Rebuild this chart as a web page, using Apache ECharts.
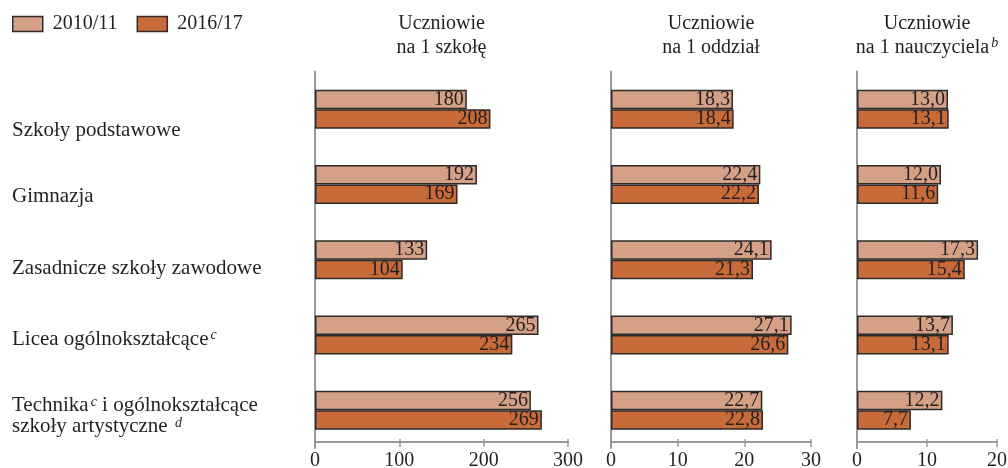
<!DOCTYPE html>
<html>
<head>
<meta charset="utf-8">
<script src="https://cdn.jsdelivr.net/npm/echarts@6/dist/echarts.min.js"></script>
<style>
html,body{margin:0;padding:0;background:#fff;}
#chart{width:1008px;height:468px;}
</style>
</head>
<body>
<div id="chart"></div>
<script>
// ---- data ----
const categories = [
  'Szkoły podstawowe',
  'Gimnazja',
  'Zasadnicze szkoły zawodowe',
  'Licea ogólnokształcące{sup|c}',
  'Technika{sup|c} i ogólnokształcące\nszkoły artystyczne {sup|d}'
];
const seriesNames = ['2010/11', '2016/17'];
const panelTitles = ['Uczniowie\nna 1 szkołę', 'Uczniowie\nna 1 oddział', 'Uczniowie\nna 1 nauczyciela{sup|b}'];
const perSchool2010 = [180, 192, 133, 265, 256];
const perSchool2016 = [208, 169, 104, 234, 269];
const perClass2010 = [18.3, 22.4, 24.1, 27.1, 22.7];
const perClass2016 = [18.4, 22.2, 21.3, 26.6, 22.8];
const perTeacher2010 = [13.0, 12.0, 17.3, 13.7, 12.2];
const perTeacher2016 = [13.1, 11.6, 15.4, 13.1, 7.7];
const axisMax = [300, 30, 20];
const axisStep = [100, 10, 10];
const decimals = [0, 1, 1];

// ---- layout / style ----
const FONT = '"Liberation Serif", "Times New Roman", serif';
const TXT = '#231f20';
const C_LIGHT = '#d4a086';
const C_DARK = '#c96b39';
const gridLeft = [315, 611, 857];
const gridWidth = [253, 200, 140];
const gridTop = 71.5;
const gridHeight = 376.5;
const labelShift = [21, 12, 9, 4, 6];

const panels = [
  [perSchool2010, perSchool2016],
  [perClass2010, perClass2016],
  [perTeacher2010, perTeacher2016]
];

const supStyle = (lh, padB) => ({fontFamily: FONT, fontSize: 14, fontStyle: 'italic', verticalAlign: 'top', lineHeight: lh, padding: [0, 0, padB, 2], color: TXT});

const grids = [], xAxes = [], yAxes = [], series = [], titles = [];
panels.forEach((p, i) => {
  grids.push({left: gridLeft[i], width: gridWidth[i], top: gridTop, height: gridHeight, containLabel: false, outerBoundsMode: 'none'});
  xAxes.push({
    type: 'value', gridIndex: i, min: 0, max: axisMax[i], interval: axisStep[i], offset: -6,
    axisLine: {show: true, lineStyle: {color: '#999', width: 2}},
    axisTick: {show: true, length: 5, lineStyle: {color: '#999', width: 1.5}},
    axisLabel: {color: TXT, fontFamily: FONT, fontSize: 20, margin: 9, hideOverlap: false},
    splitLine: {show: false}
  });
  xAxes.push({
    type: 'value', gridIndex: i, min: 0, max: axisMax[i], interval: axisStep[i], position: 'bottom', offset: -6,
    axisLine: {show: false},
    axisTick: {show: true, inside: true, length: 3, lineStyle: {color: '#999', width: 1.5}},
    axisLabel: {show: false},
    splitLine: {show: false}
  });
  yAxes.push({
    type: 'category', gridIndex: i, inverse: true,
    data: categories.map((c, k) => ({
      value: c,
      textStyle: {align: 'left', padding: [2 * labelShift[k], 0, 0, 0], color: TXT, fontFamily: FONT, fontSize: 21, lineHeight: 21, rich: {sup: supStyle(21, 8)}}
    })),
    axisLine: {show: true, lineStyle: {color: '#999', width: 2}},
    axisTick: {show: false},
    axisLabel: {
      show: i === 0, interval: 0, align: 'left', margin: 303,
      color: TXT, fontFamily: FONT, fontSize: 21, lineHeight: 21,
      rich: {sup: supStyle(21, 8)}
    }
  });
  p.forEach((vals, s) => {
    series.push({
      type: 'bar', name: seriesNames[s], xAxisIndex: 2 * i, yAxisIndex: i,
      data: vals, barWidth: 19.5, barGap: '0%',
      itemStyle: {color: s === 0 ? C_LIGHT : C_DARK, borderColor: '#2d2a2a', borderWidth: 1.5},
      label: {
        show: true, position: 'insideRight', distance: 3,
        color: TXT, fontFamily: FONT, fontSize: 20,
        formatter: d => d.value.toFixed(decimals[i]).replace('.', ',')
      }
    });
  });
  titles.push({
    text: panelTitles[i], left: gridLeft[i] + gridWidth[i] / 2, top: 12, textAlign: 'center', padding: 0,
    textStyle: {
      color: TXT, fontFamily: FONT, fontSize: 20, fontWeight: 'normal', lineHeight: 24,
      rich: {sup: supStyle(24, 10)}
    }
  });
});

const chart = echarts.init(document.getElementById('chart'), null, {renderer: 'canvas'});
chart.setOption({
  animation: false,
  backgroundColor: '#fff',
  title: titles,
  legend: {
    left: 12, top: 14, padding: 0, itemWidth: 30, itemHeight: 15, itemGap: 19,
    icon: 'rect',
    data: seriesNames,
    itemStyle: {borderColor: '#2d2a2a', borderWidth: 1.5},
    textStyle: {color: TXT, fontFamily: FONT, fontSize: 20, padding: [0, 0, 0, 5]}
  },
  grid: grids,
  xAxis: xAxes,
  yAxis: yAxes,
  series: series
});
</script>
</body>
</html>
